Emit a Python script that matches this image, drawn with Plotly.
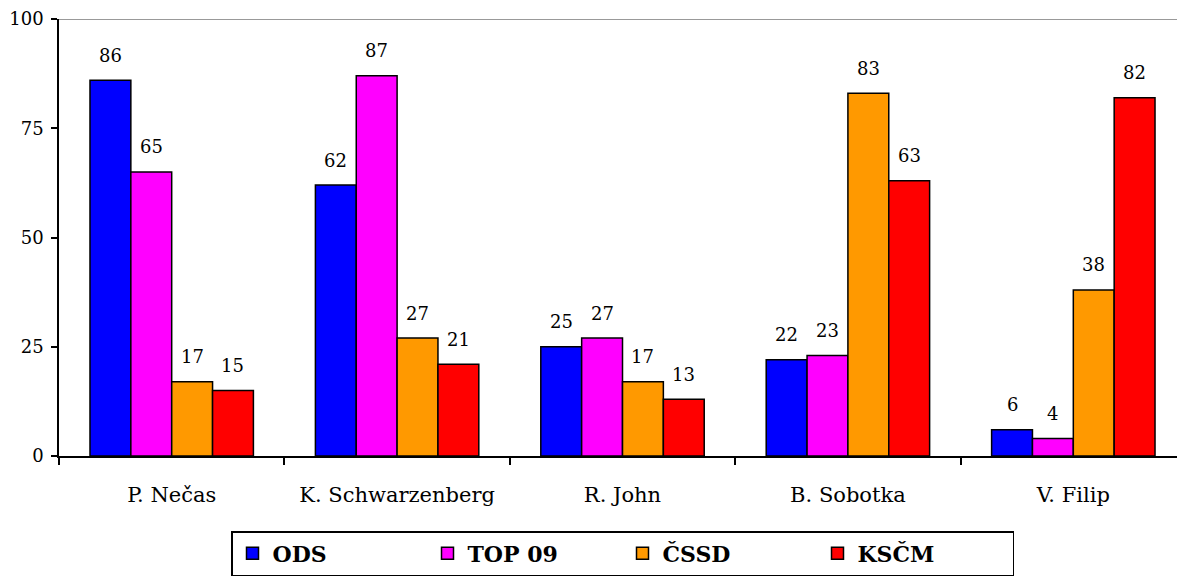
import plotly.graph_objects as go

categories = ["P. Nečas", "K. Schwarzenberg", "R. John", "B. Sobotka", "V. Filip"]
series_names = ["ODS", "TOP 09", "ČSSD", "KSČM"]
ods = [86, 62, 25, 22, 6]
top09 = [65, 87, 27, 23, 4]
cssd = [17, 27, 17, 83, 38]
kscm = [15, 21, 13, 63, 82]
y_ticks = [0, 25, 50, 75, 100]
colors = ["#0000FF", "#FF00FF", "#FF9900", "#FF0000"]

series = [ods, top09, cssd, kscm]
FONT = "DejaVu Serif"
W, H = 1177, 579
ML, MT, MB = 59, 19, 123
bargap = 0.275

fig = go.Figure()
for name, vals, col in zip(series_names, series, colors):
    fig.add_trace(go.Bar(
        x=categories, y=vals, name=name,
        marker=dict(color=col, line=dict(color="black", width=1.5)),
    ))

n = len(series)
bw = (1 - bargap) / n
for j, vals in enumerate(series):
    for i, v in enumerate(vals):
        fig.add_annotation(
            x=i + (j - (n - 1) / 2) * bw, y=v, xref="x", yref="y",
            text=str(v), showarrow=False, yanchor="middle", yshift=25,
            font=dict(family=FONT, size=18, color="black"),
        )

# title line, cut off at the top edge as in the source
fig.add_annotation(
    x=0.5, y=1 + (MT + 4) / (H - MT - MB), xref="paper", yref="paper",
    text="(odpovědi podle stranické preference)", showarrow=False,
    yanchor="bottom", font=dict(family=FONT, size=18, color="black"),
)

fig.add_shape(type="line", xref="paper", yref="y", x0=0, x1=1, y0=100, y1=100,
              line=dict(color="#999999", width=2))

fig.update_layout(
    width=W, height=H, autosize=False,
    margin=dict(l=ML, r=0, t=MT, b=MB, pad=0),
    paper_bgcolor="white", plot_bgcolor="white",
    barmode="group", bargap=bargap, bargroupgap=0,
    font=dict(family=FONT, size=18, color="black"),
    showlegend=True,
    legend=dict(
        orientation="h", x=(231 - ML) / (W - ML), xanchor="left",
        y=-(531 - (H - MB)) / (H - MT - MB), yanchor="top",
        bordercolor="black", borderwidth=1.5, bgcolor="white",
        font=dict(family=FONT, size=22, color="black", weight="bold"),
        entrywidth=150, entrywidthmode="pixels", itemwidth=30,
    ),
)
fig.update_xaxes(
    range=[-0.5, 4.46], tickson="boundaries", ticks="outside", ticklen=7,
    tickcolor="black", tickwidth=1.5, showline=True, linecolor="black", linewidth=1.5,
    showgrid=False, tickfont=dict(family=FONT, size=21), ticklabelstandoff=19,
)
fig.update_yaxes(
    range=[0, 100], tickvals=y_ticks, ticks="outside", ticklen=6,
    tickcolor="black", tickwidth=1.5, showline=True, linecolor="black", linewidth=1.5,
    showgrid=False, zeroline=False, tickfont=dict(family=FONT, size=18),
    ticklabelstandoff=4,
)

fig.write_html(
    "out.html",
    config={"displayModeBar": False},
    post_script="document.body.style.margin='0';document.body.style.overflow='hidden';",
)
